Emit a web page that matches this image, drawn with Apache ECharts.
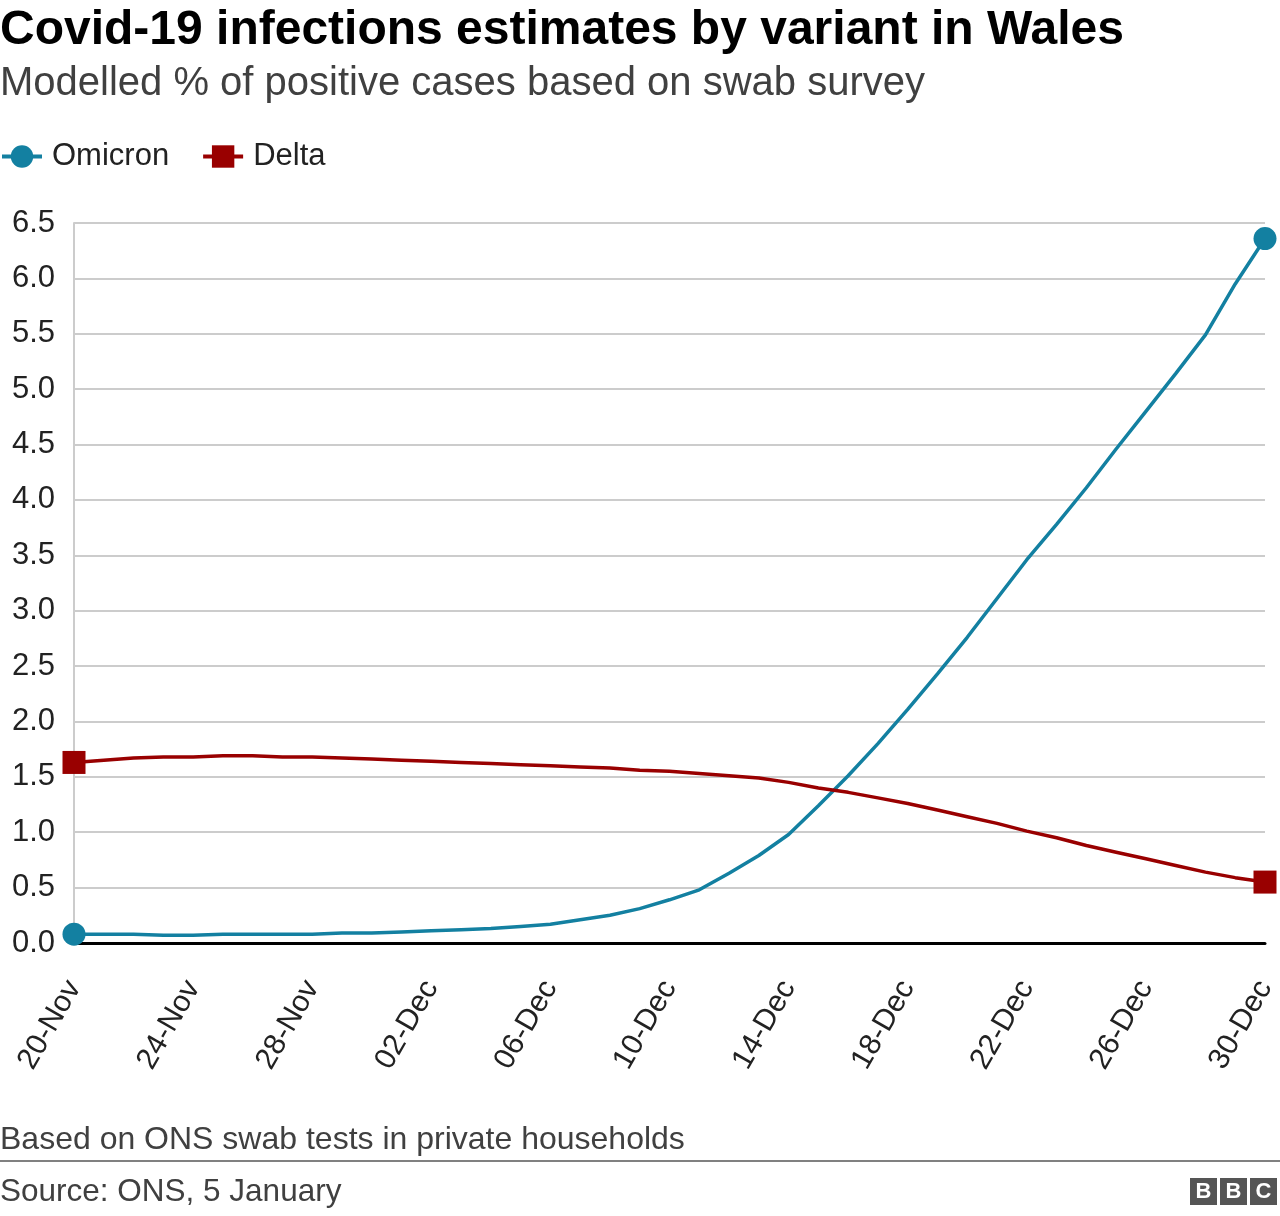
<!DOCTYPE html>
<html>
<head>
<meta charset="utf-8">
<script src="https://cdn.jsdelivr.net/npm/echarts@6/dist/echarts.min.js"></script>
<style>
html,body{margin:0;padding:0;background:#fff;}
#chart{width:1280px;height:1216px;}
</style>
</head>
<body>
<div id="chart"></div>
<script>
const categories = [
  "20-Nov","21-Nov","22-Nov","23-Nov","24-Nov","25-Nov","26-Nov","27-Nov","28-Nov","29-Nov","30-Nov",
  "01-Dec","02-Dec","03-Dec","04-Dec","05-Dec","06-Dec","07-Dec","08-Dec","09-Dec","10-Dec",
  "11-Dec","12-Dec","13-Dec","14-Dec","15-Dec","16-Dec","17-Dec","18-Dec","19-Dec","20-Dec",
  "21-Dec","22-Dec","23-Dec","24-Dec","25-Dec","26-Dec","27-Dec","28-Dec","29-Dec","30-Dec"
];
const omicron = [
  0.08,0.08,0.08,0.07,0.07,0.08,0.08,0.08,0.08,0.09,0.09,
  0.10,0.11,0.12,0.13,0.15,0.17,0.21,0.25,0.31,0.39,
  0.48,0.63,0.79,0.98,1.24,1.51,1.80,2.11,2.43,2.76,
  3.11,3.46,3.78,4.11,4.46,4.80,5.14,5.49,5.95,6.36
];
const delta = [
  1.63,1.65,1.67,1.68,1.68,1.69,1.69,1.68,1.68,1.67,1.66,
  1.65,1.64,1.63,1.62,1.61,1.60,1.59,1.58,1.56,1.55,
  1.53,1.51,1.49,1.45,1.40,1.36,1.31,1.26,1.20,1.14,
  1.08,1.01,0.95,0.88,0.82,0.76,0.70,0.64,0.59,0.55
];
const yTicks = {min: 0, max: 6.5, interval: 0.5};

const FONT = 'Liberation Sans, Arial, Helvetica, sans-serif';
const last = categories.length - 1;
const endSize = (v, p) => (p.dataIndex === 0 || p.dataIndex === last) ? 23 : 0;

const chart = echarts.init(document.getElementById('chart'), null, {renderer: 'canvas'});
chart.setOption({
  animation: false,
  backgroundColor: '#fff',
  title: [
    {text: 'Covid-19 infections estimates by variant in Wales', left: 0, top: 7, padding: 0,
     textStyle: {fontFamily: FONT, fontSize: 48, fontWeight: 'bold', color: '#000'}},
    {text: 'Modelled % of positive cases based on swab survey', left: 0, top: 64, padding: 0,
     textStyle: {fontFamily: FONT, fontSize: 40, fontWeight: 'normal', color: '#404040'}},
    {text: 'Based on ONS swab tests in private households', left: 0, top: 1124, padding: 0,
     textStyle: {fontFamily: FONT, fontSize: 32, fontWeight: 'normal', color: '#404040'}},
    {text: 'Source: ONS, 5 January', left: 0, top: 1176, padding: 0,
     textStyle: {fontFamily: FONT, fontSize: 31.5, fontWeight: 'normal', color: '#404040'}}
  ],
  legend: {
    left: 0, top: 141, padding: 0, itemWidth: 40, itemHeight: 28, itemGap: 32,
    lineStyle: {width: 4},
    textStyle: {fontFamily: FONT, fontSize: 31, color: '#222', padding: [0, 0, 0, 5]},
    data: ['Omicron', 'Delta']
  },
  grid: {left: 74, right: 15, top: 223, bottom: 273, containLabel: false},
  xAxis: {
    type: 'category', data: categories, boundaryGap: false,
    axisLine: {show: true, lineStyle: {color: '#000', width: 3}},
    axisTick: {show: false},
    axisLabel: {interval: 3, rotate: 60, margin: 40, fontFamily: FONT, fontSize: 30, color: '#222'},
    splitLine: {show: false}
  },
  yAxis: {
    type: 'value', min: yTicks.min, max: yTicks.max, interval: yTicks.interval,
    axisLine: {show: true, lineStyle: {color: '#cccccc', width: 2}},
    axisTick: {show: false},
    axisLabel: {margin: 19, fontFamily: FONT, fontSize: 31, color: '#222',
      formatter: v => v.toFixed(1)},
    splitLine: {show: true, lineStyle: {color: '#cccccc', width: 2}}
  },
  series: [
    {name: 'Omicron', type: 'line', data: omicron, symbol: 'circle', symbolSize: endSize,
     showAllSymbol: true, color: '#1380A1', lineStyle: {width: 3.5, color: '#1380A1'},
     itemStyle: {color: '#1380A1'}, z: 3},
    {name: 'Delta', type: 'line', data: delta, symbol: 'rect', symbolSize: endSize,
     showAllSymbol: true, color: '#990000', lineStyle: {width: 3.5, color: '#990000'},
     itemStyle: {color: '#990000'}, z: 4}
  ],
  graphic: [
    {type: 'rect', shape: {x: 0, y: 1160, width: 1280, height: 2}, style: {fill: '#808080'}},
    {type: 'rect', shape: {x: 1190, y: 1178, width: 27, height: 27}, style: {fill: '#555'}},
    {type: 'rect', shape: {x: 1220, y: 1178, width: 27, height: 27}, style: {fill: '#555'}},
    {type: 'rect', shape: {x: 1250, y: 1178, width: 27, height: 27}, style: {fill: '#555'}},
    {type: 'text', x: 1203.5, y: 1192, style: {text: 'B', fill: '#fff', font: 'bold 22px ' + FONT, textAlign: 'center', textVerticalAlign: 'middle'}},
    {type: 'text', x: 1233.5, y: 1192, style: {text: 'B', fill: '#fff', font: 'bold 22px ' + FONT, textAlign: 'center', textVerticalAlign: 'middle'}},
    {type: 'text', x: 1263.5, y: 1192, style: {text: 'C', fill: '#fff', font: 'bold 22px ' + FONT, textAlign: 'center', textVerticalAlign: 'middle'}}
  ]
});
</script>
</body>
</html>
